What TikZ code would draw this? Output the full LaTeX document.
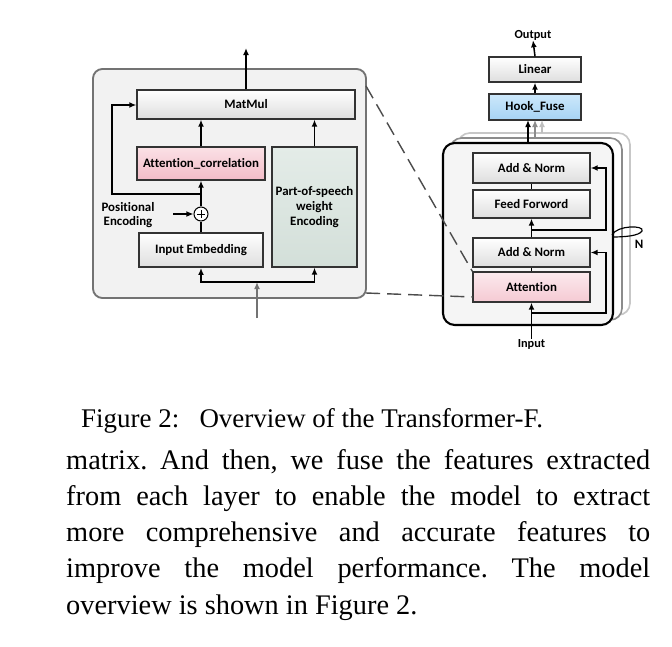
\documentclass[tikz,border=0pt]{standalone}
\usepackage{fontspec}
\setmainfont{Liberation Serif}
\newfontfamily\boxfont{Carlito}[Ligatures=NoCommon]
\usetikzlibrary{arrows.meta}

\definecolor{pinkA}{HTML}{FBE1E6}
\definecolor{pinkB}{HTML}{F2BCC8}
\definecolor{sageA}{HTML}{E4ECE8}
\definecolor{sageB}{HTML}{D3DFD9}
\definecolor{blueA}{HTML}{CDE8FB}
\definecolor{blueB}{HTML}{A6D3F4}

\tikzset{
  blk/.style={draw=black!80, line width=1.1pt, inner sep=0pt, align=center,
    top color=white, bottom color=black!13},
  sz/.style 2 args={minimum width=#1*0.03cm, minimum height=#2*0.03cm},
  arr/.style={line width=1.3pt, -{Latex[length=6pt,width=5pt]}},
  ln/.style={line width=1.3pt},
  dsh/.style={line width=1.2pt, black!70, dash pattern=on 12pt off 6pt},
  lbl/.style={inner sep=0pt, align=center}
}

\begin{document}
\begin{tikzpicture}[x=0.03cm, y=-0.03cm,
  font=\boxfont\bfseries\fontsize{11}{12.5}\selectfont]

\useasboundingbox[fill=white] (0,0) rectangle (672,647);

% zoomed-in attention block
\node[draw=black!55, fill=black!5, line width=1.6pt, rounded corners=8pt,
  inner sep=0pt, sz={273}{229}] (zoomin) at (229.5,183.5) {};
\node[blk, sz={218}{29}] (matmul) at (246,104.5) {MatMul};
\node[blk, top color=pinkA, bottom color=pinkB, sz={128}{33}] (attcor) at (201,163.5) {Attention\_correlation};
\node[blk, top color=sageA, bottom color=sageB, sz={85}{120}] (pos) at (314.5,207) {Part-of-speech\\weight\\Encoding};
\node[blk, line width=1.6pt, sz={124}{34}] (inemb) at (201,250) {Input Embedding};
\node[draw, circle, fill=white, line width=0.9pt, minimum size=0.42cm, inner sep=0pt] (plus) at (201,214) {};
\draw[line width=0.8pt] ([xshift=-0.12cm]plus.center) -- ([xshift=0.12cm]plus.center)
  ([yshift=-0.12cm]plus.center) -- ([yshift=0.12cm]plus.center);
\node[lbl] (posenc) at (128,215) {Positional\\Encoding};

\coordinate (pe) at (173,214);
\coordinate (br) at (201,194);
\coordinate (lp) at (112,105);
\coordinate (top) at (246,48);
\coordinate (inl) at (257,318);
\coordinate (bj) at (257,282);

\draw[arr] (pe) -- (plus);
\draw[ln] (inemb.north) -- (plus.south);
\draw[arr] (plus.north) -- (attcor.south);
\draw[arr] (br) -| (lp) -- (lp -| matmul.west);
\draw[arr] (attcor.north) -- (attcor.north |- matmul.south);
\draw[arr] (pos.north) -- (pos.north |- matmul.south);
\draw[arr] (matmul.north) -- (top);
\draw[arr, black!55] (inl) -- (bj);
\draw[arr] (bj) -| (inemb.south);
\draw[arr] (bj) -| (pos.south);

% stacked layers
\node[draw=black!22, fill=white, line width=1.4pt, rounded corners=10pt,
  inner sep=0pt, sz={172}{182}] (layer3) at (544,224) {};
\node[draw=black!45, fill=white, line width=1.4pt, rounded corners=10pt,
  inner sep=0pt, sz={172}{182}] (layer2) at (536,229) {};
\node[draw=black, fill=black!4, line width=1.8pt, rounded corners=10pt,
  inner sep=0pt, sz={170}{182}] (layer1) at (528,234) {};

\node[blk, sz={117}{30}] (addnorm1) at (531.5,168) {Add \& Norm};
\node[blk, sz={117}{28}] (ffn) at (531.5,204) {Feed Forword};
\node[blk, sz={117}{29}] (addnorm2) at (531.5,252.5) {Add \& Norm};
\node[blk, top color=pinkA!70, bottom color=pinkB!80, sz={117}{30}] (attn) at (531.5,287) {Attention};
\node[blk, top color=blueA, bottom color=blueB, sz={92}{26}] (hook) at (535,107) {Hook\_Fuse};
\node[blk, sz={92}{25}] (linear) at (535,69.5) {Linear};
\node[lbl, font=\boxfont\bfseries\fontsize{10.5}{12}\selectfont] (outp) at (533,35) {Output};
\node[lbl, font=\boxfont\bfseries\fontsize{10.5}{12}\selectfont] (inp) at (531.5,344) {Input};
\node[lbl] (nn) at (639,244) {N};

\coordinate (r1) at (531.5,313);
\coordinate (r1x) at (606,252.5);
\coordinate (r2) at (531.5,230);
\coordinate (r2x) at (606,168);

\draw[arr] (inp.north) -- (attn.south);
\draw[ln] (attn.north) -- (addnorm2.south);
\draw[arr] (addnorm2.north) -- (ffn.south);
\draw[ln] (ffn.north) -- (addnorm1.south);
\draw[arr] (r1) -| (r1x) -- (addnorm2.east);
\draw[arr] (r2) -| (r2x) -- (addnorm1.east);

\draw[arr] (528,143) -- (528,120);
\draw[arr, black!45, line width=1pt] (535,138) -- (535,120);
\draw[arr, black!25, line width=1pt] (542,133) -- (542,120);
\draw[arr] (hook.north) -- (linear.south);
\draw[arr] (linear.north) -- (outp.south);

% N loop
\draw[line width=1pt] (612,235) .. controls (617,225) and (645,225) .. (642,231)
  .. controls (639,236) and (624,237) .. (612,237);

% dashed zoom lines
\draw[dsh] (366,86) -- (attn.north west);
\draw[dsh] (366,293) -- (473,297);

% caption and text
\node[anchor=base west, inner sep=0pt, font=\rmfamily\fontsize{23}{28}\selectfont]
  (cap) at (81,427) {Figure 2:\hspace{0.75em}Overview of the Transformer-F.};
\node[anchor=base west, inner sep=0pt, text width=17.52cm, align=justify,
  font=\rmfamily\fontsize{24.2}{31}\selectfont] (para) at (66,469)
  {\frenchspacing matrix. And then, we fuse the features extracted\linebreak
   from each layer to enable the model to extract\linebreak
   more comprehensive and accurate features to\linebreak
   improve the model performance. The model\linebreak
   overview is shown in Figure 2.};

\end{tikzpicture}
\end{document}
